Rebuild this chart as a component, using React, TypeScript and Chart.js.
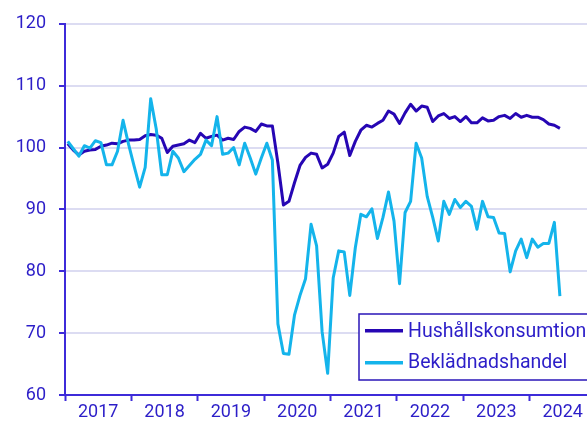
import { useEffect, useRef } from 'react';
import { Chart, registerables } from 'chart.js';

Chart.register(...registerables);

// Year labels on the x axis (each year = 12 monthly points, Jan 2017 – Jun 2024)
const years = ['2017', '2018', '2019', '2020', '2021', '2022', '2023', '2024'];

const seriesNames = ['Hushållskonsumtion', 'Beklädnadshandel'];

const hushallskonsumtion = [
  100.6, 99.6, 98.8, 99.4, 99.6, 99.7, 100.2, 100.4, 100.7, 100.6, 101.0, 101.2,
  101.2, 101.3, 101.9, 102.1, 102.0, 101.5, 99.2, 100.2, 100.4, 100.6, 101.2, 100.8,
  102.3, 101.5, 101.8, 102.0, 101.2, 101.5, 101.3, 102.6, 103.3, 103.1, 102.6, 103.8,
  103.5, 103.5, 97.5, 90.7, 91.3, 94.3, 97.1, 98.4, 99.1, 98.9, 96.7, 97.3,
  99.1, 101.8, 102.5, 98.7, 101.0, 102.8, 103.6, 103.3, 103.9, 104.4, 105.9, 105.4,
  103.9, 105.6, 107.0, 105.9, 106.7, 106.5, 104.2, 105.1, 105.5, 104.7, 105.0, 104.2,
  105.0, 104.0, 104.0, 104.8, 104.3, 104.4, 105.0, 105.2, 104.7, 105.5, 104.9, 105.2,
  104.9, 104.9, 104.5, 103.8, 103.6, 103.1,
];

const bekladnadshandel = [
  101.0, 99.8, 98.6, 100.3, 99.9, 101.1, 100.8, 97.2, 97.2, 99.4, 104.4, 100.5,
  97.0, 93.6, 96.8, 107.9, 103.0, 95.6, 95.6, 99.4, 98.3, 96.1, 97.1, 98.1,
  98.9, 101.2, 100.3, 105.0, 98.9, 99.1, 100.0, 97.2, 100.7, 98.3, 95.7, 98.3,
  100.7, 98.0, 71.5, 66.7, 66.6, 72.9, 76.1, 78.8, 87.6, 84.1, 70.2, 63.5,
  78.9, 83.3, 83.1, 76.1, 83.8, 89.2, 88.8, 90.1, 85.3, 88.7, 92.8, 88.1,
  78.0, 89.5, 91.3, 100.7, 98.3, 92.1, 88.7, 84.9, 91.3, 89.2, 91.6, 90.3,
  91.3, 90.5, 86.8, 91.3, 88.8, 88.7, 86.2, 86.1, 79.9, 83.3, 85.2, 82.2,
  85.2, 83.9, 84.5, 84.5, 87.9, 76.0,
];

const yMin = 60;
const yMax = 120;
const yStep = 10;

const TEXT = '#2c1ec8';
const AXIS = '#3d2bd9';
const GRID = '#dcdcf2';
const DARK = '#2606b4';
const LIGHT = '#14b4eb';
const BOX = '#2a16b8';
const FONT = 'Roboto, "Noto Sans", sans-serif';

const toPoints = (arr: number[]) => arr.map((v, i) => ({ x: i + 0.5, y: v }));

const boxLegend = {
  id: 'boxLegend',
  afterDraw(chart: any) {
    const { ctx, chartArea } = chart;
    const x0 = chartArea.left + 294;
    const y0 = chartArea.bottom - 81;
    const h = 66;
    const w = chart.width - x0 + 6;
    ctx.save();
    ctx.fillStyle = '#ffffff';
    ctx.fillRect(x0, y0, w, h);
    ctx.strokeStyle = BOX;
    ctx.lineWidth = 1.5;
    ctx.strokeRect(x0, y0, w, h);
    const order = [0, 1];
    order.forEach((k, row) => {
      const ds = chart.data.datasets[k];
      const ly = y0 + 16.7 + row * 32;
      ctx.strokeStyle = ds.borderColor;
      ctx.lineWidth = 3.5;
      ctx.beginPath();
      ctx.moveTo(x0 + 6, ly);
      ctx.lineTo(x0 + 44, ly);
      ctx.stroke();
      ctx.fillStyle = TEXT;
      ctx.font = `19.5px ${FONT}`;
      ctx.textBaseline = 'alphabetic';
      ctx.textAlign = 'left';
      ctx.fillText(ds.label, x0 + 49, y0 + 22.7 + row * 31.6);
    });
    ctx.restore();
  },
};

export default function App() {
  const ref = useRef<HTMLCanvasElement | null>(null);

  useEffect(() => {
    if (!ref.current) return;
    const chart = new Chart(ref.current, {
      type: 'line',
      data: {
        datasets: [
          {
            label: seriesNames[0],
            data: toPoints(hushallskonsumtion),
            borderColor: DARK,
            backgroundColor: DARK,
            borderWidth: 3,
            pointRadius: 0,
            tension: 0,
            borderJoinStyle: 'round',
            order: 1,
          },
          {
            label: seriesNames[1],
            data: toPoints(bekladnadshandel),
            borderColor: LIGHT,
            backgroundColor: LIGHT,
            borderWidth: 3,
            pointRadius: 0,
            tension: 0,
            borderJoinStyle: 'round',
            order: 0,
          },
        ],
      },
      options: {
        animation: false,
        responsive: false,
        layout: { padding: { top: 21, right: 0, left: 0, bottom: 0 } },
        plugins: {
          legend: { display: false },
          tooltip: { enabled: false },
        },
        scales: {
          x: {
            type: 'linear',
            min: 0,
            max: 94.4,
            afterBuildTicks: (scale: any) => {
              const t: any[] = [];
              for (let k = 0; k <= years.length * 2 - 1; k++) t.push({ value: k * 6 });
              scale.ticks = t;
            },
            afterFit: (scale: any) => {
              scale.height = 35;
            },
            ticks: {
              autoSkip: false,
              maxRotation: 0,
              padding: 1,
              color: TEXT,
              font: { family: FONT, size: 18 },
              callback: (v: any) => {
                const n = Number(v);
                if (n % 12 === 6) return years[(n - 6) / 12] ?? '';
                return '';
              },
            },
            grid: {
              drawOnChartArea: false,
              drawTicks: true,
              tickLength: 6,
              tickWidth: 2,
              tickColor: (c: any) => (c.tick && c.tick.value % 12 === 0 ? AXIS : 'rgba(0,0,0,0)'),
            },
            border: { color: AXIS, width: 2 },
          },
          y: {
            min: yMin,
            max: yMax,
            afterFit: (scale: any) => {
              scale.width = 65;
            },
            ticks: {
              stepSize: yStep,
              padding: 13,
              color: TEXT,
              font: { family: FONT, size: 18 },
            },
            grid: {
              color: GRID,
              lineWidth: 2,
              drawTicks: true,
              tickLength: 6,
              tickWidth: 2,
              tickColor: AXIS,
            },
            border: { color: AXIS, width: 2 },
          },
        },
      },
      plugins: [boxLegend],
    } as any);
    return () => chart.destroy();
  }, []);

  return (
    <div style={{ position: 'fixed', left: 0, top: 0, width: 587, height: 430, background: '#fff' }}>
      <canvas ref={ref} width={587} height={430} style={{ display: 'block', width: 587, height: 430 }} />
    </div>
  );
}
